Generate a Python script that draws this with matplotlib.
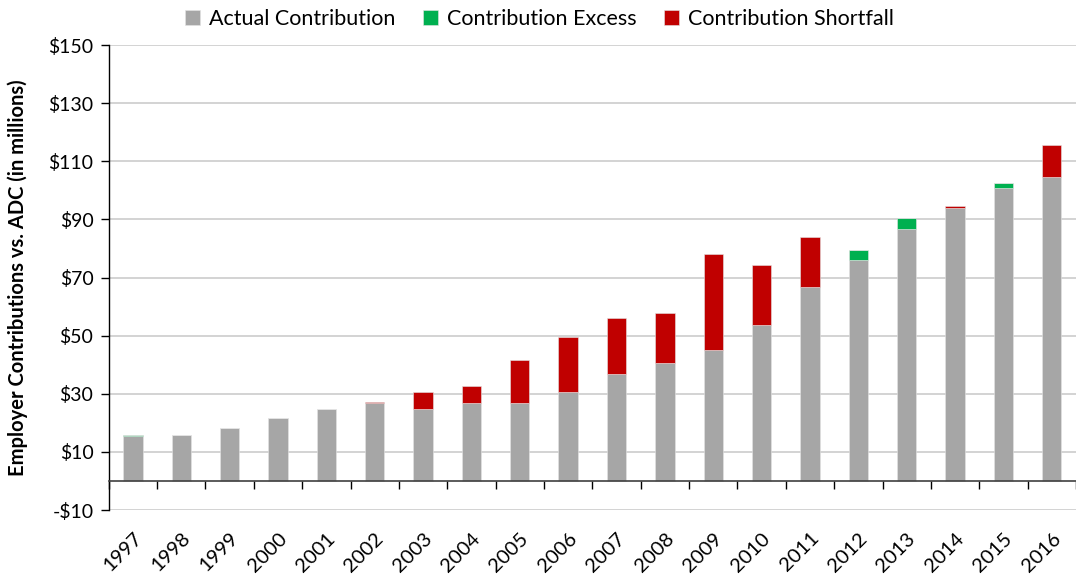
import matplotlib.pyplot as plt
import numpy as np

plt.rcParams['font.family'] = ['Lato', 'DejaVu Sans']

years = [str(y) for y in range(1997, 2017)]
actual = [15.4, 15.8, 18.1, 21.6, 24.7, 26.7, 24.8, 26.9, 26.9, 30.5,
          36.7, 40.6, 45.2, 53.5, 66.8, 76.0, 86.7, 93.8, 100.9, 104.5]
excess = [0.3, 0, 0, 0, 0, 0, 0, 0, 0, 0,
          0, 0, 0, 0, 0, 3.6, 3.9, 0, 1.7, 0]
shortfall = [0, 0, 0, 0, 0, 0.4, 5.7, 5.8, 14.6, 18.9,
             19.4, 17.3, 33.0, 20.7, 17.3, 0, 0, 0.8, 0, 11.0]

gray = '#A6A6A6'
green = '#00B050'
red = '#C00000'

fig = plt.figure(figsize=(10.76, 5.77), dpi=100)
ax = fig.add_axes([0.101, 0.116, 0.899, 0.806])

x = np.arange(len(years))
actual = np.array(actual)
excess = np.array(excess)
shortfall = np.array(shortfall)
w = 0.4
ec = dict(edgecolor='#E4E4E4', linewidth=0.4)
ax.bar(x, actual, w, color=gray, label='Actual Contribution', zorder=3, **ec)
ax.bar(x, excess, w, bottom=actual, color=green, label='Contribution Excess', zorder=3, **ec)
ax.bar(x, shortfall, w, bottom=actual + excess, color=red, label='Contribution Shortfall', zorder=3, **ec)

# y axis
ax.set_ylim(-10, 150)
ax.set_yticks(np.arange(-10, 151, 20))
ax.set_yticklabels([f'-${-v}' if v < 0 else f'${v}' for v in range(-10, 151, 20)])
ax.yaxis.grid(True, color='#C8C8C8', linewidth=1.1, zorder=0)
ax.tick_params(axis='y', labelsize=14, length=6, width=1, direction='out', pad=5)
ax.set_ylabel('Employer Contributions vs. ADC (in millions)', fontsize=14.5, fontweight='bold')
ax.yaxis.set_label_coords(-0.083, 0.5)

# x axis at zero with ticks between bars
ax.set_xlim(-0.5, 19.4)
ax.spines['bottom'].set_position(('data', 0))
ax.spines['bottom'].set_zorder(4)
ax.set_xticks(np.arange(-0.5, 19.6, 1))
ax.set_xticklabels([])
ax.tick_params(axis='x', length=6, width=1, direction='out')
for s in ['top', 'right']:
    ax.spines[s].set_visible(False)
ax.spines['left'].set_linewidth(1)
ax.spines['bottom'].set_linewidth(1.2)
ax.spines['bottom'].set_color('#404040')

sec = ax.secondary_xaxis('bottom')
sec.set_xticks(x)
sec.set_xticklabels(years, rotation=45, ha='right', rotation_mode='anchor', fontsize=14.5)
sec.tick_params(length=0, pad=14)
sec.spines['bottom'].set_visible(False)

ax.legend(loc='upper left', bbox_to_anchor=(0.07, 1.095), ncol=3, frameon=False,
          fontsize=15.5, handlelength=0.7, handleheight=0.7, columnspacing=1.3,
          handletextpad=0.4, borderaxespad=0, borderpad=0.4)

fig.savefig('out.png', dpi=100)
